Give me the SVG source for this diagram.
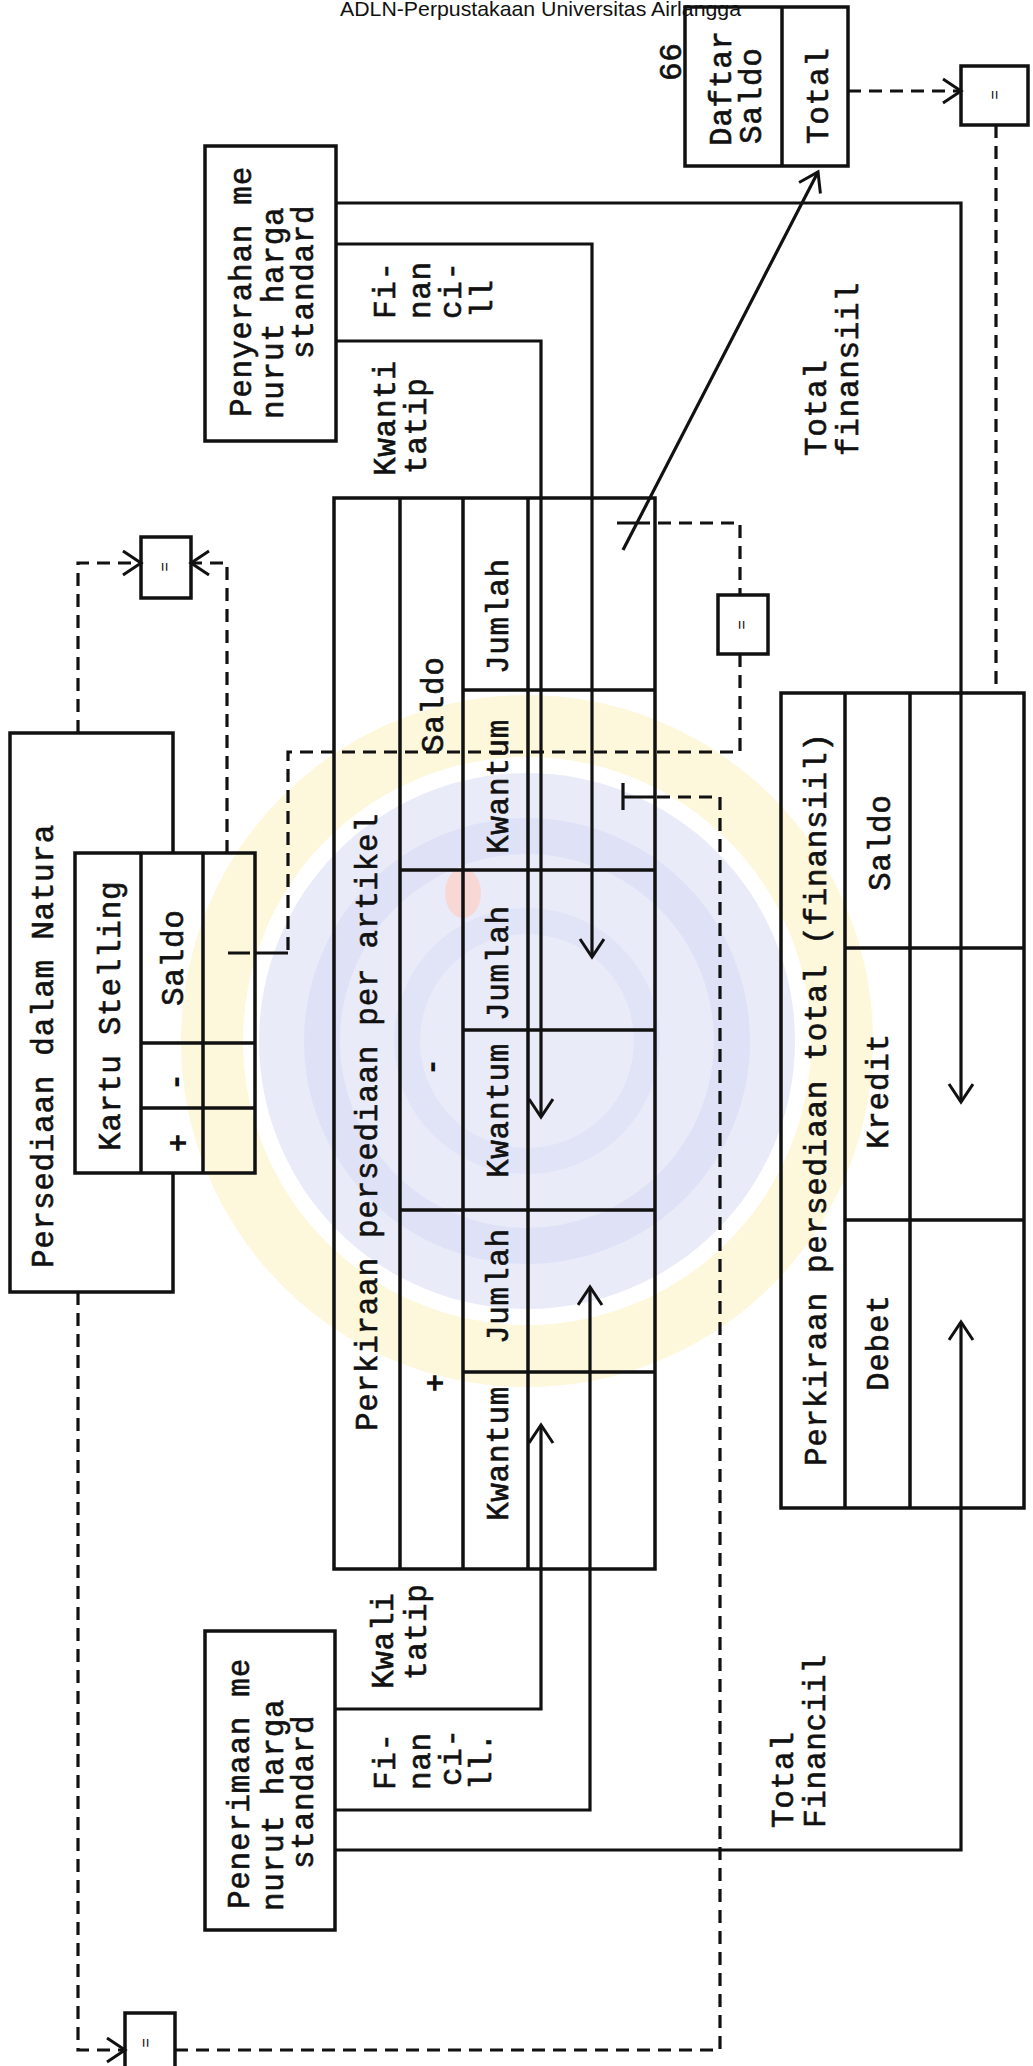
<svg xmlns="http://www.w3.org/2000/svg" width="1033" height="2066" viewBox="0 0 1033 2066">
<style>
.b{fill:none;stroke:#111;stroke-width:3.5}
.c{fill:none;stroke:#111;stroke-width:3.2}
.d{fill:none;stroke:#111;stroke-width:3.2;stroke-dasharray:13 8}
.t{font-family:"Liberation Mono",monospace;font-size:31px;letter-spacing:0.7px;fill:#111;stroke:#111;stroke-width:0.6}
.s{font-family:"Liberation Mono",monospace;font-size:16px;fill:#111;text-anchor:middle}
.pm{font-family:"Liberation Mono",monospace;font-size:31px;font-weight:bold;fill:#111;text-anchor:middle}
.h{font-family:"Liberation Sans",Arial,sans-serif;font-size:21px;fill:#111}
</style>
<defs>
<marker id="ah" markerUnits="userSpaceOnUse" markerWidth="24" markerHeight="28" refX="20" refY="13" orient="auto"><path d="M2,1 L20,13 L2,25" fill="none" stroke="#111" stroke-width="3"/></marker>
</defs>
<rect width="1033" height="2066" fill="#fff"/>
<g id="watermark">
<circle cx="527" cy="1041" r="315" fill="none" stroke="#fdf7dc" stroke-width="62"/>
<circle cx="527" cy="1041" r="268" fill="#e9ebf9"/>
<circle cx="527" cy="1041" r="205" fill="none" stroke="#dfe2f6" stroke-width="36"/>
<circle cx="527" cy="1041" r="120" fill="none" stroke="#e1e4f7" stroke-width="26"/>
<ellipse cx="463" cy="893" rx="18" ry="25" fill="#f7d8d4"/>
</g>
<text class="h" x="340" y="15.5" textLength="401" lengthAdjust="spacingAndGlyphs">ADLN-Perpustakaan Universitas Airlangga</text>

<g id="persediaan-natura">
<path class="b" d="M173,853 V733 H10 V1292 H173 V1173"/>
<text class="t" transform="translate(53,1268) rotate(-90)">Persediaan dalam Natura</text>
</g>
<g id="kartu-stelling">
<rect class="b" x="75" y="853" width="180" height="320"/>
<path class="b" d="M141,853 V1173 M203,853 V1173 M141,1043 H255 M141,1108 H255"/>
<text class="t" transform="translate(120,1151) rotate(-90)">Kartu Stelling</text>
<text class="t" transform="translate(183,1006) rotate(-90)">Saldo</text>
<text class="pm" transform="translate(185,1082) rotate(-90)">-</text>
<text class="pm" transform="translate(188,1143) rotate(-90)">+</text>
</g>
<g id="cmp-top">
<rect class="b" x="141" y="537" width="50" height="61"/>
<text class="s" transform="translate(170,567) rotate(-90)">=</text>
</g>
<g id="penyerahan">
<rect class="b" x="205" y="146" width="131" height="295"/>
<text class="t" transform="translate(251,417) rotate(-90)">Penyerahan me</text>
<text class="t" transform="translate(283,419) rotate(-90)">nurut harga</text>
<text class="t" transform="translate(313,359) rotate(-90)">standard</text>
</g>
<g id="penerimaan">
<rect class="b" x="205" y="1631" width="130" height="299"/>
<text class="t" transform="translate(249,1909) rotate(-90)">Penerimaan me</text>
<text class="t" transform="translate(283,1911) rotate(-90)">nurut harga</text>
<text class="t" transform="translate(313,1869) rotate(-90)">standard</text>
</g>
<g id="perkiraan-artikel">
<rect class="b" x="334" y="498" width="321" height="1071"/>
<path class="b" d="M400,498 V1569 M463,498 V1569 M528,498 V1569 M463,690 H655 M400,870 H655 M463,1030 H655 M400,1210 H655 M463,1372 H655"/>
<text class="t" transform="translate(377,1431) rotate(-90)">Perkiraan persediaan per artikel</text>
<text class="t" transform="translate(443,753) rotate(-90)">Saldo</text>
<text class="pm" transform="translate(441,1067) rotate(-90)">-</text>
<text class="pm" transform="translate(445,1383) rotate(-90)">+</text>
<text class="t" transform="translate(508,674) rotate(-90)">Jumlah</text>
<text class="t" transform="translate(508,854) rotate(-90)">Kwantum</text>
<text class="t" transform="translate(508,1021) rotate(-90)">Jumlah</text>
<text class="t" transform="translate(508,1178) rotate(-90)">Kwantum</text>
<text class="t" transform="translate(508,1344) rotate(-90)">Jumlah</text>
<text class="t" transform="translate(508,1521) rotate(-90)">Kwantum</text>
</g>
<g id="daftar-saldo">
<rect class="b" x="685" y="7" width="163" height="159"/>
<path class="b" d="M782,7 V166"/>
<text class="t" transform="translate(731,146) rotate(-90)">Daftar</text>
<text class="t" transform="translate(761,144) rotate(-90)">Saldo</text>
<text class="t" transform="translate(828,144) rotate(-90)">Total</text>
<text class="t" transform="translate(681,81) rotate(-90)">66</text>
</g>
<g id="cmp-topright">
<rect class="b" x="961" y="66" width="67" height="59"/>
<text class="s" transform="translate(1000,95) rotate(-90)">=</text>
</g>
<g id="cmp-mid">
<rect class="b" x="718" y="595" width="50" height="59"/>
<text class="s" transform="translate(747,625) rotate(-90)">=</text>
</g>
<g id="cmp-bottom">
<rect class="b" x="125" y="2013" width="50" height="70"/>
<text class="s" transform="translate(151,2043) rotate(-90)">=</text>
</g>
<g id="perkiraan-total">
<rect class="b" x="781" y="693" width="243" height="815"/>
<path class="b" d="M845,693 V1508 M910,693 V1508 M845,948 H1024 M845,1220 H1024"/>
<text class="t" transform="translate(826,1466) rotate(-90)">Perkiraan persediaan total (finansiil)</text>
<text class="t" transform="translate(890,891) rotate(-90)">Saldo</text>
<text class="t" transform="translate(888,1149) rotate(-90)">Kredit</text>
<text class="t" transform="translate(888,1391) rotate(-90)">Debet</text>
</g>
<g id="labels">
<text class="t" transform="translate(395,319) rotate(-90)">Fi-</text>
<text class="t" transform="translate(430,319) rotate(-90)">nan</text>
<text class="t" transform="translate(461,319) rotate(-90)">ci-</text>
<text class="t" transform="translate(492,318) rotate(-90)">ll</text>
<text class="t" transform="translate(395,476) rotate(-90)">Kwanti</text>
<text class="t" transform="translate(426,474) rotate(-90)">tatip</text>
<text class="t" transform="translate(393,1689) rotate(-90)">Kwali</text>
<text class="t" transform="translate(426,1680) rotate(-90)">tatip</text>
<text class="t" transform="translate(395,1790) rotate(-90)">Fi-</text>
<text class="t" transform="translate(430,1790) rotate(-90)">nan</text>
<text class="t" transform="translate(461,1786) rotate(-90)">ci-</text>
<text class="t" transform="translate(491,1790) rotate(-90)">ll.</text>
<text class="t" transform="translate(826,456) rotate(-90)">Total</text>
<text class="t" transform="translate(858,456) rotate(-90)">finansiil</text>
<text class="t" transform="translate(793,1828) rotate(-90)">Total</text>
<text class="t" transform="translate(825,1828) rotate(-90)">Financiil</text>
</g>
<g id="connectors">
<polyline class="c" points="336,203 961,203 961,1102" marker-end="url(#ah)"/>
<polyline class="c" points="336,244 592,244 592,957" marker-end="url(#ah)"/>
<polyline class="c" points="336,341 541,341 541,1117" marker-end="url(#ah)"/>
<polyline class="c" points="335,1709 541,1709 541,1425" marker-end="url(#ah)"/>
<polyline class="c" points="335,1810 590,1810 590,1287" marker-end="url(#ah)"/>
<polyline class="c" points="335,1850 961,1850 961,1322" marker-end="url(#ah)"/>
<line class="c" x1="623" y1="550" x2="818" y2="172" marker-end="url(#ah)"/>
<polyline class="d" points="848,91 961,91" marker-end="url(#ah)"/>
<polyline class="d" points="996,125 996,693"/>
<path class="c" d="M617,523 H637 M250,953 H228"/>
<polyline class="d" points="637,523 740,523 740,595"/>
<polyline class="d" points="740,654 740,752 288,752 288,953"/>
<path class="c" d="M288,953 H255"/>
<polyline class="d" points="78,733 78,563 141,563" marker-end="url(#ah)"/>
<polyline class="d" points="227,853 227,563 191,563" marker-end="url(#ah)"/>
<polyline class="d" points="78,1292 78,2050 125,2050" marker-end="url(#ah)"/>
<polyline class="d" points="175,2050 720,2050 720,797 655,797"/>
<path class="c" d="M655,797 H623 M623,783 V810"/>
</g>
</svg>
